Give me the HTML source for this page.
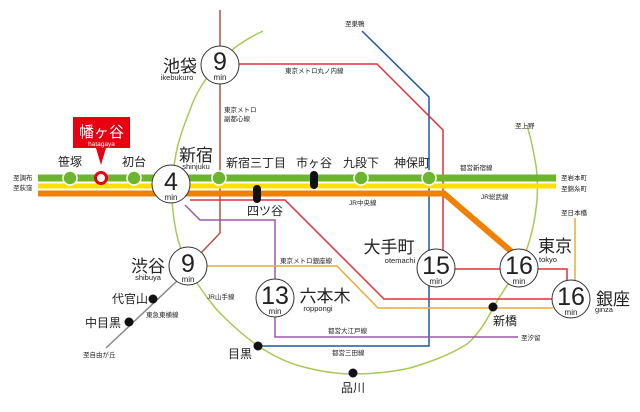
<!DOCTYPE html>
<html><head><meta charset="utf-8"><style>
html,body{margin:0;padding:0;background:#fff}
svg{display:block}
text{font-family:"Liberation Sans","Noto Sans CJK JP",sans-serif;fill:#222}
.s{font-size:6.5px}
.st{font-size:12px}
.big{font-size:17px}
.ro{font-size:7.5px}
.n{font-size:25px}
.m{font-size:8px}
</style></head><body>
<svg width="640" height="412" viewBox="0 0 640 412" xmlns="http://www.w3.org/2000/svg">
<path d="M263,31 C240,42 228,52 220,62 C205,78 195,95 190,110 C182,130 177,145 175,160 C172,175 172,190 172,200 C173,215 175,228 178,240 C183,255 188,268 195,280 C205,295 214,308 225,318 C236,329 247,338 258,346 C272,355 285,362 300,366 C318,371 335,374 353,374 C372,374 392,372 410,368 C430,362 450,355 467,344 C478,335 486,322 493,308 C503,290 513,278 520,265 C530,245 535,222 537,200 C538,185 537,170 535,160 C533,148 530,136 527,125" fill="none" stroke="#a9c957" stroke-width="1.5"/>
<polyline points="220,10 220,233 201,253" fill="none" stroke="#b5523b" stroke-width="1.5"/>
<polyline points="362,31 429,97 429,346 258,346" fill="none" stroke="#1c5aa6" stroke-width="1.5"/>
<polyline points="220,64 377,64 443,130 443,250" fill="none" stroke="#e0303a" stroke-width="1.5"/>
<polyline points="455,269 567,269 567,282" fill="none" stroke="#e0303a" stroke-width="1.5"/>
<polyline points="190,200 285,200 384,299 552,299" fill="none" stroke="#e0303a" stroke-width="1.5"/>
<polyline points="185,205 200,220 275,220 275,337 518,337" fill="none" stroke="#9b59a8" stroke-width="1.5"/>
<polyline points="207,266 337,266 378,308 553,308" fill="none" stroke="#e8ac3a" stroke-width="1.5"/>
<polyline points="575,218 575,282" fill="none" stroke="#e8ac3a" stroke-width="1.5"/>
<line x1="178" y1="280" x2="106" y2="348" stroke="#888" stroke-width="1.5"/>
<line x1="38" y1="178" x2="556" y2="178" stroke="#6cb52e" stroke-width="7"/>
<line x1="38" y1="186" x2="556" y2="186" stroke="#fbe000" stroke-width="5"/>
<polyline points="38,193.5 444,193.5 527,265" fill="none" stroke="#f08000" stroke-width="6"/>
<g fill="#6cb52e" stroke="#fff" stroke-width="1.5">
<circle cx="70" cy="178" r="7"/><circle cx="134" cy="178" r="7"/><circle cx="219" cy="178" r="7"/><circle cx="361" cy="178" r="7"/><circle cx="429" cy="178" r="7"/>
</g>
<circle cx="101" cy="178" r="5.5" fill="#fff" stroke="#e60012" stroke-width="3"/>
<rect x="310" y="171" width="8" height="18" rx="4" fill="#111"/>
<rect x="253" y="185" width="8" height="18" rx="4" fill="#111"/>
<g fill="#111"><circle cx="153" cy="299" r="4.5"/><circle cx="129" cy="322" r="4.5"/><circle cx="258" cy="346" r="4.5"/><circle cx="353" cy="373" r="4.5"/><circle cx="493" cy="307" r="4.5"/></g>
<g fill="#fff" stroke="#333" stroke-width="1">
<circle cx="220" cy="65" r="19"/><circle cx="171" cy="184" r="19"/><circle cx="188" cy="266" r="19"/><circle cx="275" cy="298" r="19"/><circle cx="436" cy="268" r="19"/><circle cx="519" cy="268" r="19"/><circle cx="571" cy="299" r="19"/>
</g>
<g text-anchor="middle">
<text class="n" x="220" y="70">9</text><text class="m" x="220" y="80">min</text>
<text class="n" x="171" y="190">4</text><text class="m" x="171" y="200">min</text>
<text class="n" x="188" y="272">9</text><text class="m" x="188" y="282">min</text>
<text class="n" x="275" y="304">13</text><text class="m" x="275" y="314">min</text>
<text class="n" x="436" y="274">15</text><text class="m" x="436" y="284">min</text>
<text class="n" x="519" y="274">16</text><text class="m" x="519" y="284">min</text>
<text class="n" x="571" y="305">16</text><text class="m" x="571" y="315">min</text>
</g>
<path d="M73,117 H130 V148 H106 L101,165 L96,148 H73 Z" fill="#e60012"/>
<text x="101.5" y="137" text-anchor="middle" style="font-size:15px;fill:#fff">幡ヶ谷</text>
<text x="101.5" y="146" text-anchor="middle" style="font-size:6.5px;fill:#fff">hatagaya</text>
<g text-anchor="middle">
<text class="st" x="70" y="166">笹塚</text>
<text class="st" x="134" y="166">初台</text>
<text class="st" x="256" y="167">新宿三丁目</text>
<text class="st" x="314" y="167">市ヶ谷</text>
<text class="st" x="361" y="167">九段下</text>
<text class="st" x="412" y="167">神保町</text>
<text class="st" x="265" y="215">四ツ谷</text>
<text class="big" x="196" y="161">新宿</text><text class="ro" x="196" y="169">shinjuku</text>
<text class="big" x="180" y="72">池袋</text><text class="ro" x="177" y="80">ikebukuro</text>
<text class="big" x="148" y="272">渋谷</text><text class="ro" x="148" y="280">shibuya</text>
<text class="big" x="325" y="302">六本木</text><text class="ro" x="318" y="311">roppongi</text>
<text class="big" x="389" y="253">大手町</text><text class="ro" x="400" y="263">otemachi</text>
<text class="big" x="555" y="252">東京</text><text class="ro" x="548" y="262">tokyo</text>
<text class="big" x="613" y="305">銀座</text><text class="ro" x="604" y="312">ginza</text>
<text class="st" x="130" y="303">代官山</text>
<text class="st" x="103" y="327">中目黒</text>
<text class="st" x="240" y="358">目黒</text>
<text class="st" x="353" y="392">品川</text>
<text class="st" x="505" y="325">新橋</text>
</g>
<g class="s">
<text x="13" y="180">至調布</text><text x="13" y="190">至荻窪</text>
<text x="561" y="180">至岩本町</text><text x="561" y="191">至錦糸町</text>
<text x="460" y="170">都営新宿線</text><text x="481" y="199">JR総武線</text><text x="349" y="205">JR中央線</text>
<text x="285" y="73">東京メトロ丸ノ内線</text>
<text x="224" y="112">東京メトロ</text><text x="224" y="121">副都心線</text>
<text x="345" y="26">至巣鴨</text><text x="515" y="128">至上野</text>
<text x="561" y="215">至日本橋</text><text x="521" y="340">至汐留</text>
<text x="280" y="263">東京メトロ銀座線</text>
<text x="207" y="299">JR山手線</text>
<text x="146" y="317">東急東横線</text>
<text x="83" y="357">至自由が丘</text>
<text x="328" y="333">都営大江戸線</text>
<text x="332" y="355">都営三田線</text>
</g>
</svg>
</body></html>
